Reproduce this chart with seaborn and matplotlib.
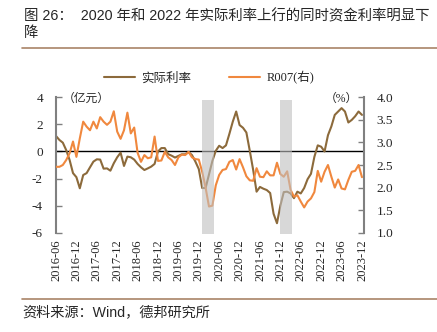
import matplotlib
matplotlib.use("Agg")
import matplotlib.pyplot as plt
from matplotlib.lines import Line2D
from matplotlib.ticker import FormatStrFormatter
import numpy as np
import pandas as pd
import seaborn as sns

sns.set_style("white")
plt.rcParams["font.family"] = ["Liberation Serif", "Noto Sans CJK SC"]
plt.rcParams["axes.unicode_minus"] = False

# Monthly series, 2016-06 .. 2023-12
months = pd.period_range("2016-06", "2023-12", freq="M").strftime("%Y-%m").tolist()

# 实际利率 (left axis)
real_rate = [
    1.14, 0.85, 0.65, 0.10, -0.63, -1.60, -1.90, -2.72, -1.74, -1.60,
    -1.17, -0.75, -0.58, -0.60, -1.27, -1.25, -1.42, -0.87, -0.43, -0.09,
    -1.07, -0.38, -0.43, -0.60, -0.92, -1.17, -1.37, -1.25, -1.12, -0.92,
    0.00, 0.25, 0.25, -0.20, -0.31, -0.45, -0.33, -0.21, -0.21, -0.04,
    -0.27, -0.75, -1.30, -2.70, -2.70, -1.70, -0.70, 0.05, 0.42, 0.25,
    0.45, 1.30, 2.20, 2.95, 1.95, 1.75, 1.40, 0.05, -1.37, -2.97,
    -2.62, -2.75, -2.85, -3.07, -4.60, -5.30, -4.00, -3.00, -2.97, -3.10,
    -3.45, -2.97, -3.10, -2.70, -2.05, -1.65, -0.40, 0.45, 0.35, 0.00,
    1.20, 1.85, 2.70, 2.95, 3.20, 2.95, 2.14, 2.33, 2.60, 2.95,
    2.70,
]

# R007 (right axis, %)
r007 = [
    2.46, 2.46, 2.50, 2.61, 2.76, 3.02, 2.68, 3.09, 3.46, 3.35,
    3.27, 3.46, 3.31, 3.56, 3.46, 3.39, 3.46, 3.69, 3.24, 3.08,
    3.27, 3.66, 3.20, 3.33, 2.77, 2.57, 2.72, 2.65, 2.67, 3.13,
    2.59, 2.60, 2.79, 2.67, 2.61, 2.50, 2.67, 2.73, 2.72, 2.79,
    2.67, 2.63, 2.62, 2.35, 2.00, 1.58, 1.60, 2.05, 2.28, 2.39,
    2.41, 2.57, 2.61, 2.40, 2.63, 2.45, 2.25, 2.16, 2.15, 2.43,
    2.24, 2.23, 2.36, 2.27, 2.27, 2.55, 2.30, 2.24, 2.36, 1.95,
    1.80, 1.83, 1.69, 1.56, 1.69, 1.76, 1.90, 2.37, 2.13, 2.35,
    2.50, 2.24, 2.00, 2.18, 1.98, 1.96, 2.17, 2.35, 2.37, 2.50,
    2.23,
]

tick_labels = months[::6]
shade_periods = [("2020-01", "2020-04"), ("2021-12", "2022-03")]

left_ticks = [-6, -4, -2, 0, 2, 4]
right_ticks = [1.0, 1.5, 2.0, 2.5, 3.0, 3.5, 4.0]

BROWN = "#8C6A3B"
ORANGE = "#F0883E"
SPINE = "#808080"
RULE = "#A98467"

df = pd.DataFrame({
    "pos": np.arange(len(months)),
    "month": months,
    "real_rate": real_rate,
    "r007": r007,
})

W, H = 437, 332
fig = plt.figure(figsize=(W / 100, H / 100), dpi=100)
ax = fig.add_axes([55.5 / W, 1 - 232.7 / H, (364 - 55.5) / W, (232.7 - 97.3) / H])
ax2 = ax.twinx()

sns.lineplot(data=df, x="pos", y="real_rate", ax=ax, color=BROWN, lw=1.5, legend=False)
sns.lineplot(data=df, x="pos", y="r007", ax=ax2, color=ORANGE, lw=1.5, legend=False)
ax.axhline(0, color="black", lw=1.0, zorder=1)

# shaded periods, drawn over the lines
for start, end in shade_periods:
    ax2.axvspan(months.index(start) - 0.15, months.index(end) + 0.55,
                ymin=-0.01, ymax=0.98, color="#BFBFBF", alpha=0.6,
                lw=0, zorder=5, clip_on=False)

ax.set_xlim(-0.15, 90.6)
ax.set_ylim(-6, 4)
ax2.set_ylim(1, 4)

ax.set_yticks(left_ticks)
ax.set_yticklabels([str(t) for t in left_ticks])
ax2.set_yticks(right_ticks)
ax2.yaxis.set_major_formatter(FormatStrFormatter("%.1f"))

ax.set_xticks(range(0, len(months), 6))
ax.set_xticklabels(tick_labels, rotation=90, fontsize=9)

ax.tick_params(axis="x", length=0, pad=5)
ax.tick_params(axis="y", direction="in", length=4, width=1, color=SPINE,
               pad=9, labelsize=9.5)
ax2.tick_params(axis="y", direction="in", length=4, width=1, color=SPINE,
                pad=9, labelsize=9.5)

for a in (ax, ax2):
    a.set_xlabel("")
    a.set_ylabel("")
    for s in ("top", "bottom"):
        a.spines[s].set_visible(False)
ax.spines["right"].set_visible(False)
ax2.spines["left"].set_visible(False)
ax.spines["left"].set_color(SPINE)
ax.spines["left"].set_linewidth(1.5)
ax2.spines["right"].set_color(SPINE)
ax2.spines["right"].set_linewidth(1.5)

cjk = ["Liberation Sans", "Noto Sans CJK SC"]
serif_cjk = ["Liberation Serif", "Noto Sans CJK SC"]

fig.text(63 / W, 1 - 99 / H, "（亿元）", fontsize=8.5, family=serif_cjk,
         ha="left", va="center")
fig.text(358 / W, 1 - 99 / H, "（%）", fontsize=8.5, family=serif_cjk,
         ha="right", va="center")

handles = [Line2D([], [], color=BROWN, lw=1.5), Line2D([], [], color=ORANGE, lw=1.5)]
fig.legend(handles, ["实际利率", "R007(右)"], loc="center",
           bbox_to_anchor=(209 / W, 1 - 78 / H), ncol=2, frameon=False,
           handlelength=2.5, columnspacing=3.0, handletextpad=0.5,
           prop={"family": serif_cjk, "size": 9})

# title, header rule, footer rule and source
fig.text(24 / W, 1 - 16 / H,
         "图 26：  2020 年和 2022 年实际利率上行的同时资金利率明显下",
         fontsize=10.4, family=cjk, ha="left", va="center")
fig.text(24 / W, 1 - 33 / H, "降", fontsize=10.4, family=cjk, ha="left", va="center")
fig.add_artist(Line2D([22 / W, 1], [1 - 47.7 / H] * 2, color=RULE, lw=1.2))
fig.add_artist(Line2D([22 / W, 1], [1 - 299 / H] * 2, color=RULE, lw=1.2))
fig.text(22 / W, 1 - 312 / H, "资料来源：Wind，德邦研究所", fontsize=10.2,
         family=cjk, ha="left", va="center")

fig.savefig("out.png", dpi=100)
